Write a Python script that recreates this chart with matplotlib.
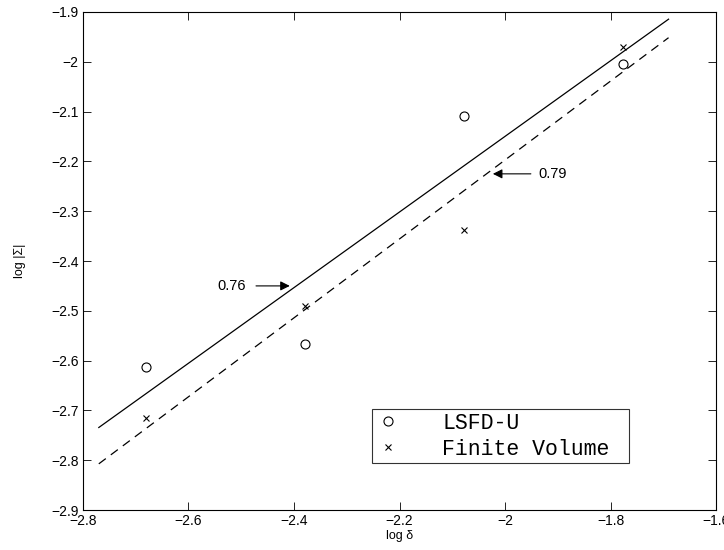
import numpy as np
import matplotlib
matplotlib.use("Agg")
import matplotlib.pyplot as plt
from matplotlib.ticker import FuncFormatter

# dados (log delta, log |Sigma|)
log_delta = [-2.68, -2.38, -2.077, -1.777]
lsfd_u = [-2.613, -2.567, -2.109, -2.004]
finite_volume = [-2.715, -2.490, -2.338, -1.970]
fit_range = [-2.77, -1.69]

xticks = [-2.8, -2.6, -2.4, -2.2, -2.0, -1.8, -1.6]
yticks = [-2.9, -2.8, -2.7, -2.6, -2.5, -2.4, -2.3, -2.2, -2.1, -2.0, -1.9]

plt.rcParams['font.family'] = ['Liberation Sans', 'DejaVu Sans']

fig = plt.figure(figsize=(7.24, 5.5), dpi=100)
ax = fig.add_axes([0.1146, 0.0727, 0.8744, 0.9055])

# ajuste linear por mínimos quadrados
p_lsfd = np.polyfit(log_delta, lsfd_u, 1)
p_fv = np.polyfit(log_delta, finite_volume, 1)
xf = np.array(fit_range)

ax.plot(xf, np.polyval(p_lsfd, xf), color='k', lw=0.9)
ax.plot(xf, np.polyval(p_fv, xf), color='k', lw=0.9, ls=(0, (7, 5)))

ax.plot(log_delta, lsfd_u, 'o', mfc='none', mec='k', ms=6.5, mew=0.8, label='LSFD-U')
ax.plot(log_delta, finite_volume, 'x', color='k', ms=5, mew=0.8, label='Finite Volume')

# anotações das inclinações
seta = dict(arrowstyle='-|>', color='k', lw=0.8, shrinkA=0, shrinkB=0,
            mutation_scale=14)
ax.annotate('', xy=(-2.408, -2.450), xytext=(-2.472, -2.450), arrowprops=seta)
ax.text(-2.545, -2.450, '0.76', va='center', ha='left', fontsize=10.5)
ax.annotate('', xy=(-2.023, -2.225), xytext=(-1.951, -2.225), arrowprops=seta)
ax.text(-1.936, -2.225, '0.79', va='center', ha='left', fontsize=10.5)

ax.set_xlim(-2.8, -1.6)
ax.set_ylim(-2.9, -1.9)
ax.set_xticks(xticks)
ax.set_yticks(yticks)
fmt = FuncFormatter(lambda v, pos: ('%g' % round(v, 2)).replace('-', '\u2212'))
ax.xaxis.set_major_formatter(fmt)
ax.yaxis.set_major_formatter(fmt)
ax.tick_params(direction='in', length=6, width=0.6, top=True, right=True,
               labelsize=10, pad=3)
for s in ax.spines.values():
    s.set_linewidth(0.8)

ax.set_xlabel('log \u03b4', fontsize=9, labelpad=1)
ax.set_ylabel('log |\u03a3|', fontsize=9, labelpad=18)

leg = ax.legend(loc='lower left', bbox_to_anchor=(0.457, 0.094, 0.406, 0.102),
                mode='expand', frameon=True, fancybox=False, edgecolor='k',
                prop={'family': 'Liberation Mono', 'size': 15.5},
                handlelength=1.2, handletextpad=1.9, borderpad=0.15,
                labelspacing=0.25, borderaxespad=0)
leg.get_frame().set_linewidth(0.8)

fig.savefig('out.png', dpi=100)
